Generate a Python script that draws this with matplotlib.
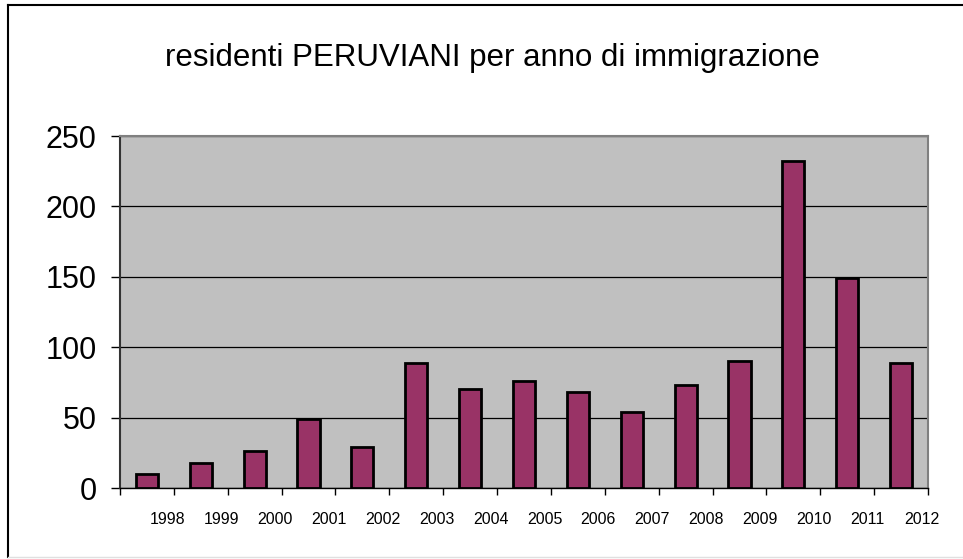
import matplotlib.pyplot as plt
from matplotlib.lines import Line2D
import numpy as np

plt.rcParams['font.family'] = ['Liberation Sans', 'DejaVu Sans']

# Data
years = ['1998', '1999', '2000', '2001', '2002', '2003', '2004', '2005',
         '2006', '2007', '2008', '2009', '2010', '2011', '2012']
residenti = [10, 18, 26, 49, 29, 89, 70, 76, 68, 54, 73, 90, 232, 149, 89]

fig = plt.figure(figsize=(9.63, 5.59), dpi=100)
ax = fig.add_axes([0.1246, 0.127, 0.8391, 0.6297])

x = np.arange(len(years))
ax.bar(x, residenti, width=0.41, color='#993366', edgecolor='black',
       linewidth=2, zorder=3)

ax.set_facecolor('#c0c0c0')
ax.set_xlim(-0.5, len(years) - 0.5)
ax.set_ylim(0, 250)
ax.set_yticks([0, 50, 100, 150, 200, 250])
ax.yaxis.grid(True, color='black', linewidth=0.9, zorder=1)
ax.tick_params(axis='y', labelsize=22, length=6.5, width=1, direction='out', pad=10.5)

# tick marks at category boundaries, labels slightly left of each mark
ax.set_xticks(np.arange(len(years) + 1) - 0.5, minor=True)
ax.set_xticks(x + 0.5 - 0.12)
ax.set_xticklabels(years)
ax.tick_params(axis='x', which='major', length=0, labelsize=11.5, pad=17)
ax.tick_params(axis='x', which='minor', length=5, width=1, direction='out')

for side in ['top', 'right']:
    ax.spines[side].set_color('#808080')
    ax.spines[side].set_linewidth(1.5)
ax.spines['left'].set_color('#333333')
ax.spines['left'].set_linewidth(1.5)
ax.spines['bottom'].set_color('black')
ax.spines['bottom'].set_linewidth(1)

fig.text(0.511, 0.897, 'residenti PERUVIANI per anno di immigrazione',
         ha='center', va='center', fontsize=22.5)

# chart frame: left and top edges black, bottom faint
fx0, fy_top, fy_bot = 7.5 / 963, 1 - 5 / 559, 1 - 557 / 559
fig.lines.append(Line2D([fx0, fx0], [fy_bot, fy_top], transform=fig.transFigure,
                        color='black', linewidth=1.5))
fig.lines.append(Line2D([fx0, 1], [fy_top, fy_top], transform=fig.transFigure,
                        color='black', linewidth=1.5))
fig.lines.append(Line2D([fx0, 1], [fy_bot, fy_bot], transform=fig.transFigure,
                        color='#e0e0e0', linewidth=1))

plt.savefig('out.png', dpi=100)
